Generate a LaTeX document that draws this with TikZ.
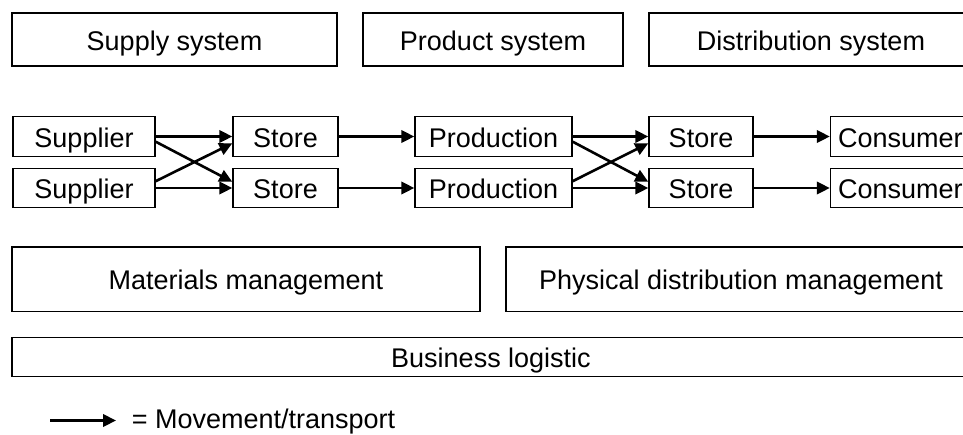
\documentclass[tikz,border=0pt]{standalone}
\usepackage{fontspec}
\setmainfont{Liberation Sans}
\usetikzlibrary{arrows.meta}
\tikzset{
    %Define standard arrow tip
    >={Triangle[length=6.5pt,width=6.2pt]},
    %Define style for boxes
    sbox/.style={
           rectangle,
           draw=black, line width=0.7pt,
           inner sep=0pt,
           minimum height=19.75pt,
           text height=11.9pt,
           text depth=1pt,
           font=\fontsize{13.5}{16}\selectfont},
    % Define arrow style
    arr/.style={
           ->,
           line width=1.3pt}
}
\begin{document}
\begin{tikzpicture}[x=0.5pt, y=-0.5pt]
    % FRAME
    \useasboundingbox (0,0) rectangle (963,434);
    \clip (0,0) rectangle (963,434);

    % SYSTEMS
    \node[sbox, minimum width=162.5pt, minimum height=26.5pt] at (174.5,39.5) (supsys) {Supply system};
    \node[sbox, minimum width=130pt, minimum height=26.5pt] at (493,39.5) (prosys) {Product system};
    \node[sbox, minimum width=162pt, minimum height=26.5pt] at (811,39.5) (dissys) {Distribution system};

    % FLOW
    \node[sbox, minimum width=71pt] at (84,136.5) (supA) {Supplier};
    \node[sbox, minimum width=71pt] at (84,188) (supB) {Supplier};
    \node[sbox, minimum width=52.5pt] at (285.5,136.5) (stoA) {Store};
    \node[sbox, minimum width=52.5pt] at (285.5,188) (stoB) {Store};
    \node[sbox, minimum width=78.5pt] at (493.5,136.5) (proA) {Production};
    \node[sbox, minimum width=78.5pt] at (493.5,188) (proB) {Production};
    \node[sbox, minimum width=52pt] at (701,136.5) (stoC) {Store};
    \node[sbox, minimum width=52pt] at (701,188) (stoD) {Store};
    \node[sbox, minimum width=69.5pt, text width=62pt] at (900,136.5) (conA) {Consumer};
    \node[sbox, minimum width=69.5pt, text width=62pt] at (900,188) (conB) {Consumer};

    \path[arr] (supA.east) edge (stoA.west);
    \path[arr] (supB.east) edge (stoB.west);
    \path[arr] ([yshift=-2.6pt]supA.east) edge ([yshift=3.1pt]stoB.west);
    \path[arr] ([yshift=3.4pt]supB.east) edge ([yshift=-3.4pt]stoA.west);

    \path[arr] (stoA.east) edge (proA.west);
    \path[arr] (stoB.east) edge (proB.west);

    \path[arr] (proA.east) edge (stoC.west);
    \path[arr] (proB.east) edge (stoD.west);
    \path[arr] ([yshift=-2.6pt]proA.east) edge ([yshift=3.1pt]stoD.west);
    \path[arr] ([yshift=3.4pt]proB.east) edge ([yshift=-3.4pt]stoC.west);

    \path[arr] (stoC.east) edge (conA.west);
    \path[arr] (stoD.east) edge (conB.west);

    % MANAGEMENT
    \node[sbox, minimum width=234pt, minimum height=32.2pt] at (246,279) (matman) {Materials management};
    \node[sbox, minimum width=235pt, minimum height=32.2pt] at (741,279) (phyman) {Physical distribution management};
    \node[sbox, minimum width=479pt, minimum height=19.5pt] at (491,357) (buslog) {Business logistic};

    % LEGEND
    \coordinate (legA) at (50,420.5);
    \coordinate (legB) at (116,420.5);
    \path[arr] (legA) edge (legB);
    \node[anchor=base west, inner sep=0pt, font=\fontsize{13.5}{16}\selectfont] at (131.5,428.5) (legtxt) {= Movement/transport};
\end{tikzpicture}
\end{document}
